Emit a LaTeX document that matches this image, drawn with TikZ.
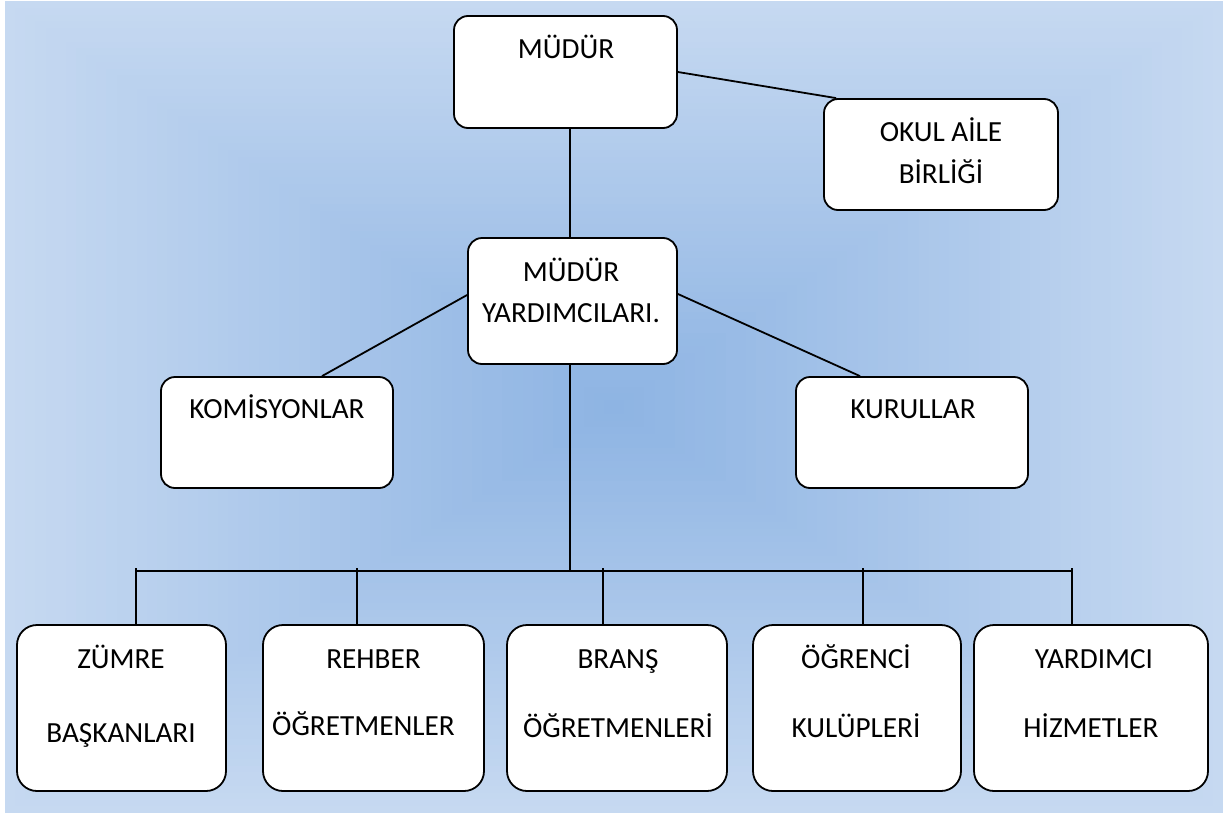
\documentclass[tikz,border=0pt]{standalone}
\usepackage{fontspec}
\setmainfont{Carlito}
\usetikzlibrary{calc}
\definecolor{bglight}{HTML}{C6D9F1}
\definecolor{bgdark}{HTML}{8EB4E3}
\begin{document}
\begin{tikzpicture}[x=1pt,y=-1pt,
  box/.style={draw=black, line width=1.8pt, fill=white, rounded corners=14pt, inner sep=0pt},
  bbox/.style={box, rounded corners=20pt},
  txt/.style={font=\fontsize{29.2}{35}\selectfont, anchor=base, inner sep=0pt, text=black},
  conn/.style={draw=black, line width=1.8pt}]
\useasboundingbox (0,0) rectangle (1227,814);
\fill[white] (0,0) rectangle (1227,814);
\foreach \i in {0,...,59}{
  \pgfmathsetmacro\f{\i/60}
  \pgfmathtruncatemacro\p{round(100*\i/59)}
  \fill[bgdark!\p!bglight] ({614-609*(1-\f)},{407-406*(1-\f)}) rectangle ({614+609*(1-\f)},{407+406*(1-\f)});
}
% boxes
\node[box, minimum width=223pt, minimum height=112pt] (mudur) at (565.5,72) {};
\node[box, minimum width=234pt, minimum height=111pt] (okul) at (941,154.5) {};
\node[box, minimum width=209pt, minimum height=126pt] (my) at (572.5,301) {};
\node[box, minimum width=232pt, minimum height=111pt] (kom) at (277,432.5) {};
\node[box, minimum width=232pt, minimum height=111pt] (kur) at (912,432.5) {};
\node[bbox, minimum width=209pt, minimum height=166pt] (zumre) at (121.5,708) {};
\node[bbox, minimum width=221pt, minimum height=166pt] (rehber) at (373.5,708) {};
\node[bbox, minimum width=220pt, minimum height=166pt] (brans) at (617,708) {};
\node[bbox, minimum width=208pt, minimum height=166pt] (ogrenci) at (857,708) {};
\node[bbox, minimum width=234pt, minimum height=166pt] (yard) at (1091,708) {};
% texts
\node[txt] (t1) at (566,58) {MÜDÜR};
\node[txt] (t2) at (941,141) {OKUL AİLE};
\node[txt] (t3) at (941,183) {BİRLİĞİ};
\node[txt] (t4) at (571,281) {MÜDÜR};
\node[txt] (t5) at (571,322) {YARDIMCILARI.};
\node[txt] (t6) at (277,418) {KOMİSYONLAR};
\node[txt] (t7) at (913,418) {KURULLAR};
\node[txt] (t8) at (121,668) {ZÜMRE};
\node[txt] (t9) at (121,742) {BAŞKANLARI};
\node[txt] (t10) at (373.5,668) {REHBER};
\node[txt] (t11) at (363.5,735) {ÖĞRETMENLER};
\node[txt] (t12) at (618,668) {BRANŞ};
\node[txt] (t13) at (618,737) {ÖĞRETMENLERİ};
\node[txt] (t14) at (856,668) {ÖĞRENCİ};
\node[txt] (t15) at (856,737) {KULÜPLERİ};
\node[txt] (t16) at (1094,668) {YARDIMCI};
\node[txt] (t17) at (1091,737) {HİZMETLER};
% connectors
\coordinate (bus) at (570,571);
\coordinate (bz) at (136,568);
\coordinate (br) at (357,568);
\coordinate (bb) at (603,568);
\coordinate (bo) at (863,568);
\coordinate (by) at (1072,568);
\draw[conn] (mudur.south -| bus) -- (my.north -| bus);
\draw[conn] (mudur.east) -- ([xshift=13pt]okul.north west);
\draw[conn] ([yshift=6pt]my.west) -- ([xshift=45pt]kom.north);
\draw[conn] ([yshift=7pt]my.east) -- ([xshift=-52pt]kur.north);
\draw[conn] (my.south -| bus) -- (bus);
\draw[conn] (bz |- bus) -- (by |- bus);
\draw[conn] (bz) -- (bz |- zumre.north);
\draw[conn] (br) -- (br |- rehber.north);
\draw[conn] (bb) -- (bb |- brans.north);
\draw[conn] (bo) -- (bo |- ogrenci.north);
\draw[conn] (by) -- (by |- yard.north);
\end{tikzpicture}
\end{document}
